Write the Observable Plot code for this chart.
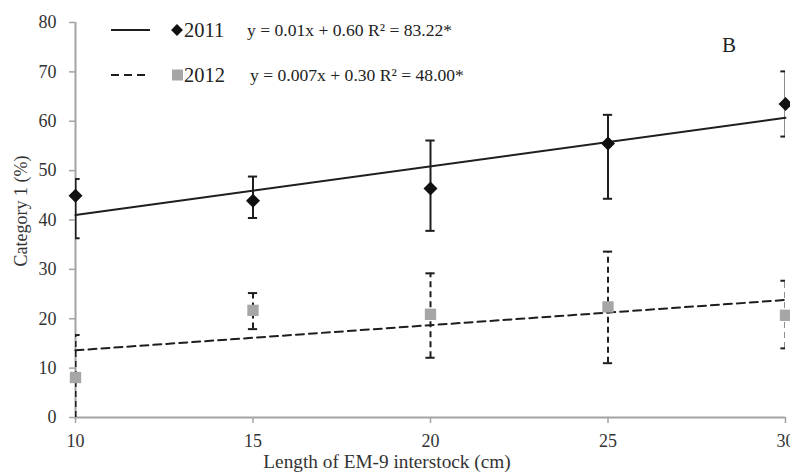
<!DOCTYPE html>
<html>
<head>
<meta charset="utf-8">
<script src="https://cdn.jsdelivr.net/npm/d3@7"></script>
<script src="https://cdn.jsdelivr.net/npm/@observablehq/plot@0.6"></script>
<style>
  html, body { margin: 0; padding: 0; background: #fff; }
  #chart { width: 790px; height: 476px; }
</style>
</head>
<body>
<div id="chart"></div>
<script>
// ---- data ----
const lengths = [10, 15, 20, 25, 30];
const mean2011 = [44.9, 43.9, 46.4, 55.5, 63.5];
const low2011  = [36.3, 40.4, 37.8, 44.3, 56.9];
const high2011 = [48.3, 48.8, 56.1, 61.3, 70.1];
const mean2012 = [8.1, 21.7, 20.9, 22.4, 20.7];
const low2012  = [0.0, 17.9, 12.1, 11.0, 14.0];
const high2012 = [16.7, 25.2, 29.2, 33.6, 27.7];
const trendX = [10, 30];
const trend2011 = [41.0, 60.7];
const trend2012 = [13.6, 23.8];
const xTicks = [10, 15, 20, 25, 30];
const yTicks = [0, 10, 20, 30, 40, 50, 60, 70, 80];
const seriesNames = ["2011", "2012"];
const equations = ["y = 0.01x + 0.60 R\u00B2 = 83.22*", "y = 0.007x + 0.30 R\u00B2 = 48.00*"];
const panelLetter = "B";
const xTitle = "Length of EM-9 interstock (cm)";
const yTitle = "Category 1 (%)";

// ---- tables ----
const d2011 = lengths.map((x, i) => ({x, mean: mean2011[i], low: low2011[i], high: high2011[i]}));
const d2012 = lengths.map((x, i) => ({x, mean: mean2012[i], low: low2012[i], high: high2012[i]}));
const t2011 = trendX.map((x, i) => ({x, y: trend2011[i]}));
const t2012 = trendX.map((x, i) => ({x, y: trend2012[i]}));

const ink = "#1e1e1e";
const axisGray = "#a3a3a3";
const squareGray = "#a6a6a6";
const font = "'Liberation Serif', 'Times New Roman', serif";
const capHalf = 0.13;

const chart = Plot.plot({
  width: 790,
  height: 476,
  marginLeft: 75,
  marginRight: 5,
  marginTop: 22,
  marginBottom: 59,
  x: {domain: [10, 30]},
  y: {domain: [0, 80]},
  style: {fontFamily: font, fontSize: "18px", background: "#fff", color: "#333", overflow: "visible"},
  marks: [
    Plot.axisY({ticks: yTicks, tickSize: 6, tickPadding: 13, stroke: axisGray, strokeWidth: 1.5, label: null, fill: "#333", fontSize: 18}),
    Plot.axisX({ticks: xTicks, tickSize: 6, tickPadding: 11, stroke: axisGray, strokeWidth: 1.5, label: null, fill: "#333", fontSize: 18}),
    Plot.ruleY([0], {stroke: axisGray, strokeWidth: 2}),
    Plot.ruleX([10], {stroke: axisGray, strokeWidth: 2}),
    // trend lines
    Plot.line(t2011, {x: "x", y: "y", stroke: ink, strokeWidth: 2}),
    Plot.line(t2012, {x: "x", y: "y", stroke: ink, strokeWidth: 2, strokeDasharray: "8,5"}),
    // error bars 2011
    Plot.ruleX(d2011, {x: "x", y1: "low", y2: "high", stroke: ink, strokeWidth: 2, clip: "frame"}),
    Plot.ruleY(d2011, {y: "high", x1: d => d.x - capHalf, x2: d => d.x + capHalf, stroke: ink, strokeWidth: 2, clip: "frame"}),
    Plot.ruleY(d2011, {y: "low", x1: d => d.x - capHalf, x2: d => d.x + capHalf, stroke: ink, strokeWidth: 2, clip: "frame"}),
    // error bars 2012
    Plot.ruleX(d2012, {x: "x", y1: "low", y2: "high", stroke: ink, strokeWidth: 2, strokeDasharray: "6,4", clip: "frame"}),
    Plot.ruleY(d2012, {y: "high", x1: d => d.x - capHalf, x2: d => d.x + capHalf, stroke: ink, strokeWidth: 2, clip: "frame"}),
    Plot.ruleY(d2012.filter(d => d.low > 0), {y: "low", x1: d => d.x - capHalf, x2: d => d.x + capHalf, stroke: ink, strokeWidth: 2, clip: "frame"}),
    // markers
    Plot.dot(d2012, {x: "x", y: "mean", symbol: "square", r: 6.4, fill: squareGray, stroke: "none"}),
    Plot.dot(d2011, {x: "x", y: "mean", symbol: "diamond2", r: 6.3, fill: "#111", stroke: "none"})
  ]
});

document.getElementById("chart").appendChild(chart);

// ---- legend, panel letter and axis titles ----
const svg = d3.select(chart);
const g = svg.append("g").attr("font-family", font).attr("fill", "#222").attr("text-anchor", "start");
const rows = [
  {y: 30, dash: null, name: seriesNames[0], eq: equations[0], eqX: 247, symbol: "diamond"},
  {y: 75, dash: "8,5", name: seriesNames[1], eq: equations[1], eqX: 250, symbol: "square"}
];
rows.forEach(r => {
  const ln = g.append("line").attr("x1", 111).attr("x2", 150).attr("y1", r.y).attr("y2", r.y)
    .attr("stroke", ink).attr("stroke-width", 2);
  if (r.dash) ln.attr("stroke-dasharray", r.dash);
  if (r.symbol === "diamond") {
    g.append("path").attr("d", d3.symbol(d3.symbolDiamond2, 90)()).attr("transform", `translate(177,${r.y})`).attr("fill", "#111");
  } else {
    g.append("rect").attr("x", 172).attr("y", r.y - 5.5).attr("width", 11).attr("height", 11).attr("fill", squareGray);
  }
  g.append("text").attr("x", 184).attr("y", r.y + 6.5).attr("text-anchor", "start").attr("font-size", 20.5).text(r.name);
  g.append("text").attr("x", r.eqX).attr("y", r.y + 6).attr("text-anchor", "start").attr("font-size", 17.6).text(r.eq);
});
g.append("text").attr("x", 729).attr("y", 52).attr("text-anchor", "middle").attr("font-size", 21).text(panelLetter);
g.append("text").attr("x", 387).attr("y", 468).attr("text-anchor", "middle").attr("font-size", 19.3).attr("fill", "#333").text(xTitle);
g.append("text").attr("transform", "translate(20.5,211) rotate(-90)").attr("text-anchor", "middle")
  .attr("dominant-baseline", "central").attr("font-size", 18).attr("fill", "#333").text(yTitle);
</script>
</body>
</html>
